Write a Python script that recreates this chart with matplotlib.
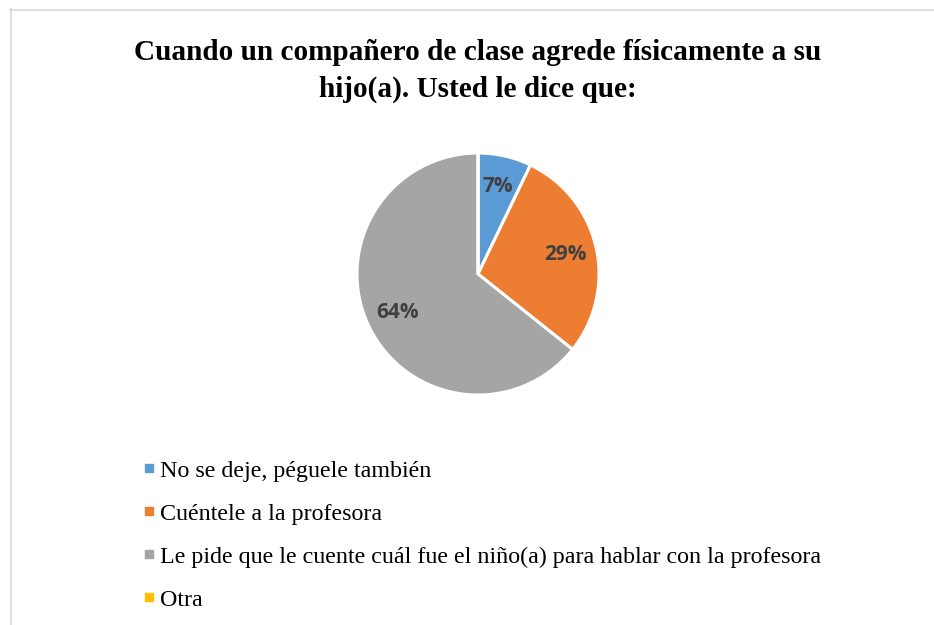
import matplotlib
matplotlib.use("Agg")
import matplotlib.pyplot as plt
from matplotlib.lines import Line2D

categories = ["No se deje, péguele también",
              "Cuéntele a la profesora",
              "Le pide que le cuente cuál fue el niño(a) para hablar con la profesora",
              "Otra"]
counts = [1, 4, 9, 0]
colors = ["#5B9BD5", "#ED7D31", "#A5A5A5", "#FFC000"]
title = "Cuando un compañero de clase agrede físicamente a su\nhijo(a). Usted le dice que:"

W, H = 934, 625
fig = plt.figure(figsize=(W / 100, H / 100), dpi=100)
fig.patch.set_facecolor("white")

# chart border (left and top edges visible)
fig.add_artist(Line2D([10.5 / W, 10.5 / W], [0, 1 - 9 / H], transform=fig.transFigure,
                      color="#d9d9d9", lw=1.2))
fig.add_artist(Line2D([10 / W, 1], [1 - 9.5 / H, 1 - 9.5 / H], transform=fig.transFigure,
                      color="#d9d9d9", lw=1.2))

cx, cy, r = 478, 274, 121
ax = fig.add_axes([(cx - r) / W, (H - cy - r) / H, 2 * r / W, 2 * r / H])

def fmt(p):
    return f"{p:.0f}%" if p > 0.5 else ""

wedges, texts, autotexts = ax.pie(counts, colors=colors, startangle=90, counterclock=False,
                                  autopct=fmt, pctdistance=0.74,
                                  wedgeprops=dict(edgecolor="white", linewidth=2.2),
                                  textprops=dict(color="#404040", fontsize=15,
                                                 fontweight="bold", family="Open Sans"))
ax.set_xlim(-1, 1)
ax.set_ylim(-1, 1)
ax.set_aspect("equal")
ax.axis("off")

fig.text(cx / W, 1 - 39 / H, title, ha="center", va="top", fontsize=21.1,
         fontweight="bold", family="Liberation Serif", linespacing=1.45)

handles = [Line2D([], [], marker="s", linestyle="none", markersize=6,
                  markerfacecolor=c, markeredgecolor=c) for c in colors]
fig.legend(handles, categories, loc="upper left", bbox_to_anchor=(144 / W, 1 - 460 / H),
           frameon=False, prop=dict(family="Liberation Serif", size=17.3),
           handlelength=0.45, handletextpad=0.22, labelspacing=0.88, borderaxespad=0,
           borderpad=0)

fig.savefig("out.png", dpi=100, facecolor="white")
